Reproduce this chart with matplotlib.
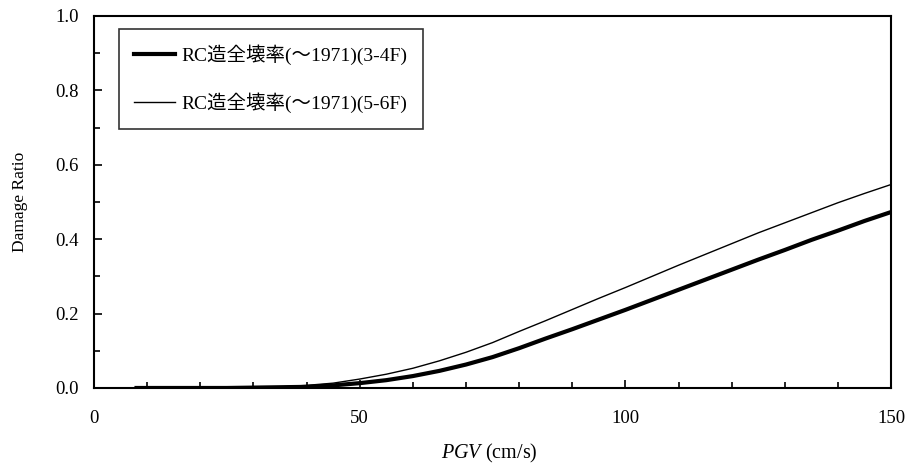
import matplotlib
matplotlib.use("Agg")
import matplotlib.pyplot as plt
from matplotlib.ticker import MultipleLocator

plt.rcParams['font.family'] = ['Liberation Serif', 'Noto Sans CJK JP']
plt.rcParams['mathtext.fontset'] = 'custom'
plt.rcParams['mathtext.it'] = 'Liberation Serif:italic'
plt.rcParams['mathtext.rm'] = 'Liberation Serif'

# PGV (cm/s)
pgv = [8, 10, 15, 20, 25, 30, 35, 40, 45, 50, 55, 60, 65, 70, 75, 80, 85, 90,
       95, 100, 105, 110, 115, 120, 125, 130, 135, 140, 145, 150]

# RC造全壊率(〜1971)(3-4F)
ratio_34f = [0.0, 0.0, 0.0, 0.0, 0.0, 0.001, 0.002, 0.003, 0.007, 0.013, 0.021,
             0.032, 0.046, 0.063, 0.083, 0.107, 0.133, 0.158, 0.184, 0.210,
             0.237, 0.264, 0.291, 0.318, 0.345, 0.371, 0.398, 0.423, 0.449, 0.473]

# RC造全壊率(〜1971)(5-6F)
ratio_56f = [0.0, 0.0, 0.0, 0.0, 0.0, 0.001, 0.003, 0.007, 0.013, 0.024, 0.037,
             0.053, 0.073, 0.096, 0.122, 0.152, 0.181, 0.211, 0.241, 0.270,
             0.300, 0.330, 0.359, 0.388, 0.417, 0.444, 0.471, 0.498, 0.523, 0.547]

labels = ['RC造全壊率(〜1971)(3-4F)', 'RC造全壊率(〜1971)(5-6F)']

fig = plt.figure(figsize=(9.11, 4.75), dpi=100)
ax = fig.add_axes([0.1032, 0.1832, 0.875, 0.7832])

ax.plot(pgv, ratio_34f, color='black', lw=3, label=labels[0])
ax.plot(pgv, ratio_56f, color='black', lw=1, label=labels[1])

ax.set_xlim(0, 150)
ax.set_ylim(0, 1.0)
ax.xaxis.set_major_locator(MultipleLocator(50))
ax.xaxis.set_minor_locator(MultipleLocator(10))
ax.yaxis.set_major_locator(MultipleLocator(0.2))
ax.yaxis.set_minor_locator(MultipleLocator(0.1))
ax.yaxis.set_major_formatter(lambda v, p: f"{v:.1f}")
ax.tick_params(which='both', direction='in', labelsize=13.5, top=False, right=False)
ax.tick_params(which='major', length=6, width=1.2)
ax.tick_params(which='minor', length=4, width=1.2)
ax.tick_params(axis='x', pad=16)
ax.tick_params(axis='y', pad=11)
for s in ax.spines.values():
    s.set_linewidth(1.5)

ax.set_xlabel('$\\it{PGV}$ (cm/s)', fontsize=14.5, va='center')
ax.xaxis.set_label_coords(0.496, -0.177)
ax.set_ylabel('Damage Ratio', fontsize=12.5, va='center')
ax.yaxis.set_label_coords(-0.093, 0.5)

leg = ax.legend(loc='upper left', bbox_to_anchor=(0.031, 0.965), fontsize=14,
                frameon=True, fancybox=False, edgecolor='black', handlelength=2.1,
                handletextpad=0.3, labelspacing=1.4, borderpad=0.8, borderaxespad=0)
leg.get_frame().set_linewidth(1.2)

fig.savefig('out.png', dpi=100)
